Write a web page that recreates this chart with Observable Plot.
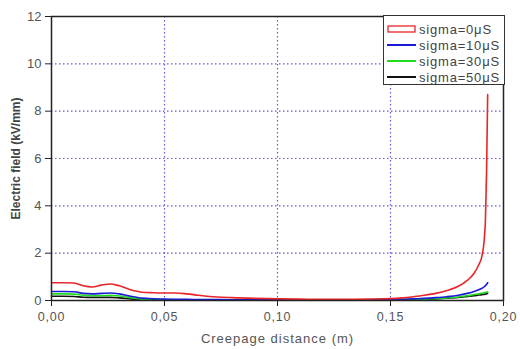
<!DOCTYPE html>
<html>
<head>
<meta charset="utf-8">
<script src="https://cdn.jsdelivr.net/npm/d3@7"></script>
<script src="https://cdn.jsdelivr.net/npm/@observablehq/plot@0.6"></script>
<style>
  html, body { margin: 0; padding: 0; background: #fff; }
  #wrap { position: relative; width: 520px; height: 349px; }
  #legend { position: absolute; left: 383px; top: 15px; width: 120px; height: 68px;
    border: 1.5px solid #333; background: #fff; font-family: "Liberation Sans", Arial, sans-serif;
    font-size: 13px; letter-spacing: 0.8px; color: #444; box-sizing: content-box; }
  #legend .row { position: absolute; left: 3px; height: 16px; display: flex; align-items: center; }
  #legend svg { margin-right: 3px; }
</style>
</head>
<body>
<div id="wrap"><div id="chart"></div><div id="legend"></div></div>
<script>
const distance = [0, 0.005, 0.010, 0.014, 0.018, 0.022, 0.026, 0.030, 0.035, 0.040, 0.045, 0.050, 0.055, 0.060, 0.065, 0.070, 0.080, 0.090, 0.100, 0.110, 0.120, 0.130, 0.140, 0.150, 0.155, 0.160, 0.165, 0.170, 0.175, 0.180, 0.184, 0.187, 0.189, 0.1905, 0.1915, 0.192, 0.1925, 0.193];
const sigma0  = [0.75,0.75,0.74,0.62,0.57,0.65,0.70,0.62,0.45,0.35,0.33,0.32,0.32,0.28,0.22,0.17,0.12,0.09,0.07,0.06,0.05,0.05,0.06,0.08,0.11,0.16,0.22,0.30,0.42,0.60,0.85,1.15,1.50,1.90,2.60,3.40,5.40,8.70];
const sigma10 = [0.38,0.38,0.37,0.30,0.28,0.30,0.32,0.28,0.18,0.10,0.07,0.06,0.05,0.05,0.04,0.04,0.03,0.03,0.03,0.03,0.03,0.03,0.03,0.04,0.05,0.07,0.09,0.12,0.16,0.22,0.30,0.38,0.45,0.52,0.58,0.63,0.68,0.75];
const sigma30 = [0.28,0.28,0.27,0.22,0.20,0.21,0.22,0.19,0.12,0.06,0.04,0.04,0.03,0.03,0.03,0.03,0.03,0.03,0.03,0.03,0.03,0.03,0.03,0.03,0.04,0.05,0.06,0.08,0.11,0.15,0.20,0.25,0.28,0.31,0.33,0.34,0.35,0.37];
const sigma50 = [0.18,0.18,0.17,0.14,0.13,0.13,0.13,0.11,0.07,0.03,0.02,0.02,0.02,0.02,0.02,0.02,0.02,0.02,0.02,0.02,0.02,0.02,0.02,0.02,0.03,0.04,0.05,0.07,0.10,0.13,0.17,0.20,0.23,0.25,0.26,0.27,0.28,0.30];
const seriesNames = ["sigma=0μS", "sigma=10μS", "sigma=30μS", "sigma=50μS"];
const seriesColors = ["#e8262a", "#1a1ad6", "#1fdc1f", "#111111"];
const xTicks = [0, 0.05, 0.10, 0.15, 0.20];
const yTicks = [0, 2, 4, 6, 8, 10, 12];
const xGrid = [0.05, 0.10, 0.15];
const yGrid = [2, 4, 6, 8, 10];

const allSeries = [sigma0, sigma10, sigma30, sigma50];
const rows = [];
allSeries.forEach((vals, i) => vals.forEach((v, j) => rows.push({x: distance[j], y: v, s: seriesNames[i]})));
const drawOrder = [3, 2, 1, 0];

const gridStyle = {stroke: "#6a55e0", strokeDasharray: "1.5,2.5", strokeOpacity: 1, strokeWidth: 1.2};

const chart = Plot.plot({
  width: 520, height: 349,
  marginLeft: 51, marginRight: 17, marginTop: 16, marginBottom: 49,
  style: {fontFamily: "'Liberation Sans', Arial, sans-serif", fontSize: "12px", background: "#fff", color: "#222"},
  x: {domain: [0, 0.2]},
  y: {domain: [0, 12]},
  marks: [
    Plot.gridX(xGrid, gridStyle),
    Plot.gridY(yGrid, gridStyle),
    ...drawOrder.map(i => Plot.line(rows.filter(r => r.s === seriesNames[i]), {x: "x", y: "y", stroke: seriesColors[i], strokeWidth: 1.6, curve: "monotone-x"})),
    Plot.frame({stroke: "#222", strokeWidth: 1.5}),
    Plot.axisX(xTicks, {tickSize: 6, tickPadding: 6, tickFormat: d => d.toFixed(2).replace(".", ","),
      label: "Creepage distance (m)", labelAnchor: "center", labelArrow: "none", labelOffset: 42, fill: "#555", stroke: "#222"}),
    Plot.axisY(yTicks, {tickSize: 6, tickPadding: 4, tickFormat: d => String(d),
      label: "Electric field (kV/mm)", labelAnchor: "center", labelArrow: "none", labelOffset: 40, fill: "#555", stroke: "#222"})
  ]
});
document.getElementById("chart").appendChild(chart);
chart.querySelectorAll("text").forEach(t => {
  const s = t.textContent;
  if (s.startsWith("Electric")) { t.setAttribute("font-weight", "bold"); t.setAttribute("fill", "#444"); }
  else if (s.startsWith("Creepage")) { t.setAttribute("font-size", "13px"); t.setAttribute("letter-spacing", "1px"); }
  else if (s.includes(",")) { t.setAttribute("font-size", "12.5px"); t.setAttribute("letter-spacing", "0.8px"); }
  else { t.setAttribute("font-size", "13px"); }
});

const legend = document.getElementById("legend");
seriesNames.forEach((name, i) => {
  const row = document.createElement("div");
  row.className = "row";
  row.style.top = (5 + i * 16) + "px";
  const sw = i === 0
    ? `<svg width="29" height="10"><rect x="1" y="2" width="27" height="6" fill="none" stroke="${seriesColors[i]}" stroke-width="1.3"/></svg>`
    : `<svg width="29" height="10"><line x1="0" x2="29" y1="5" y2="5" stroke="${seriesColors[i]}" stroke-width="2"/></svg>`;
  row.innerHTML = sw + `<span>${name}</span>`;
  legend.appendChild(row);
});
</script>
</body>
</html>
